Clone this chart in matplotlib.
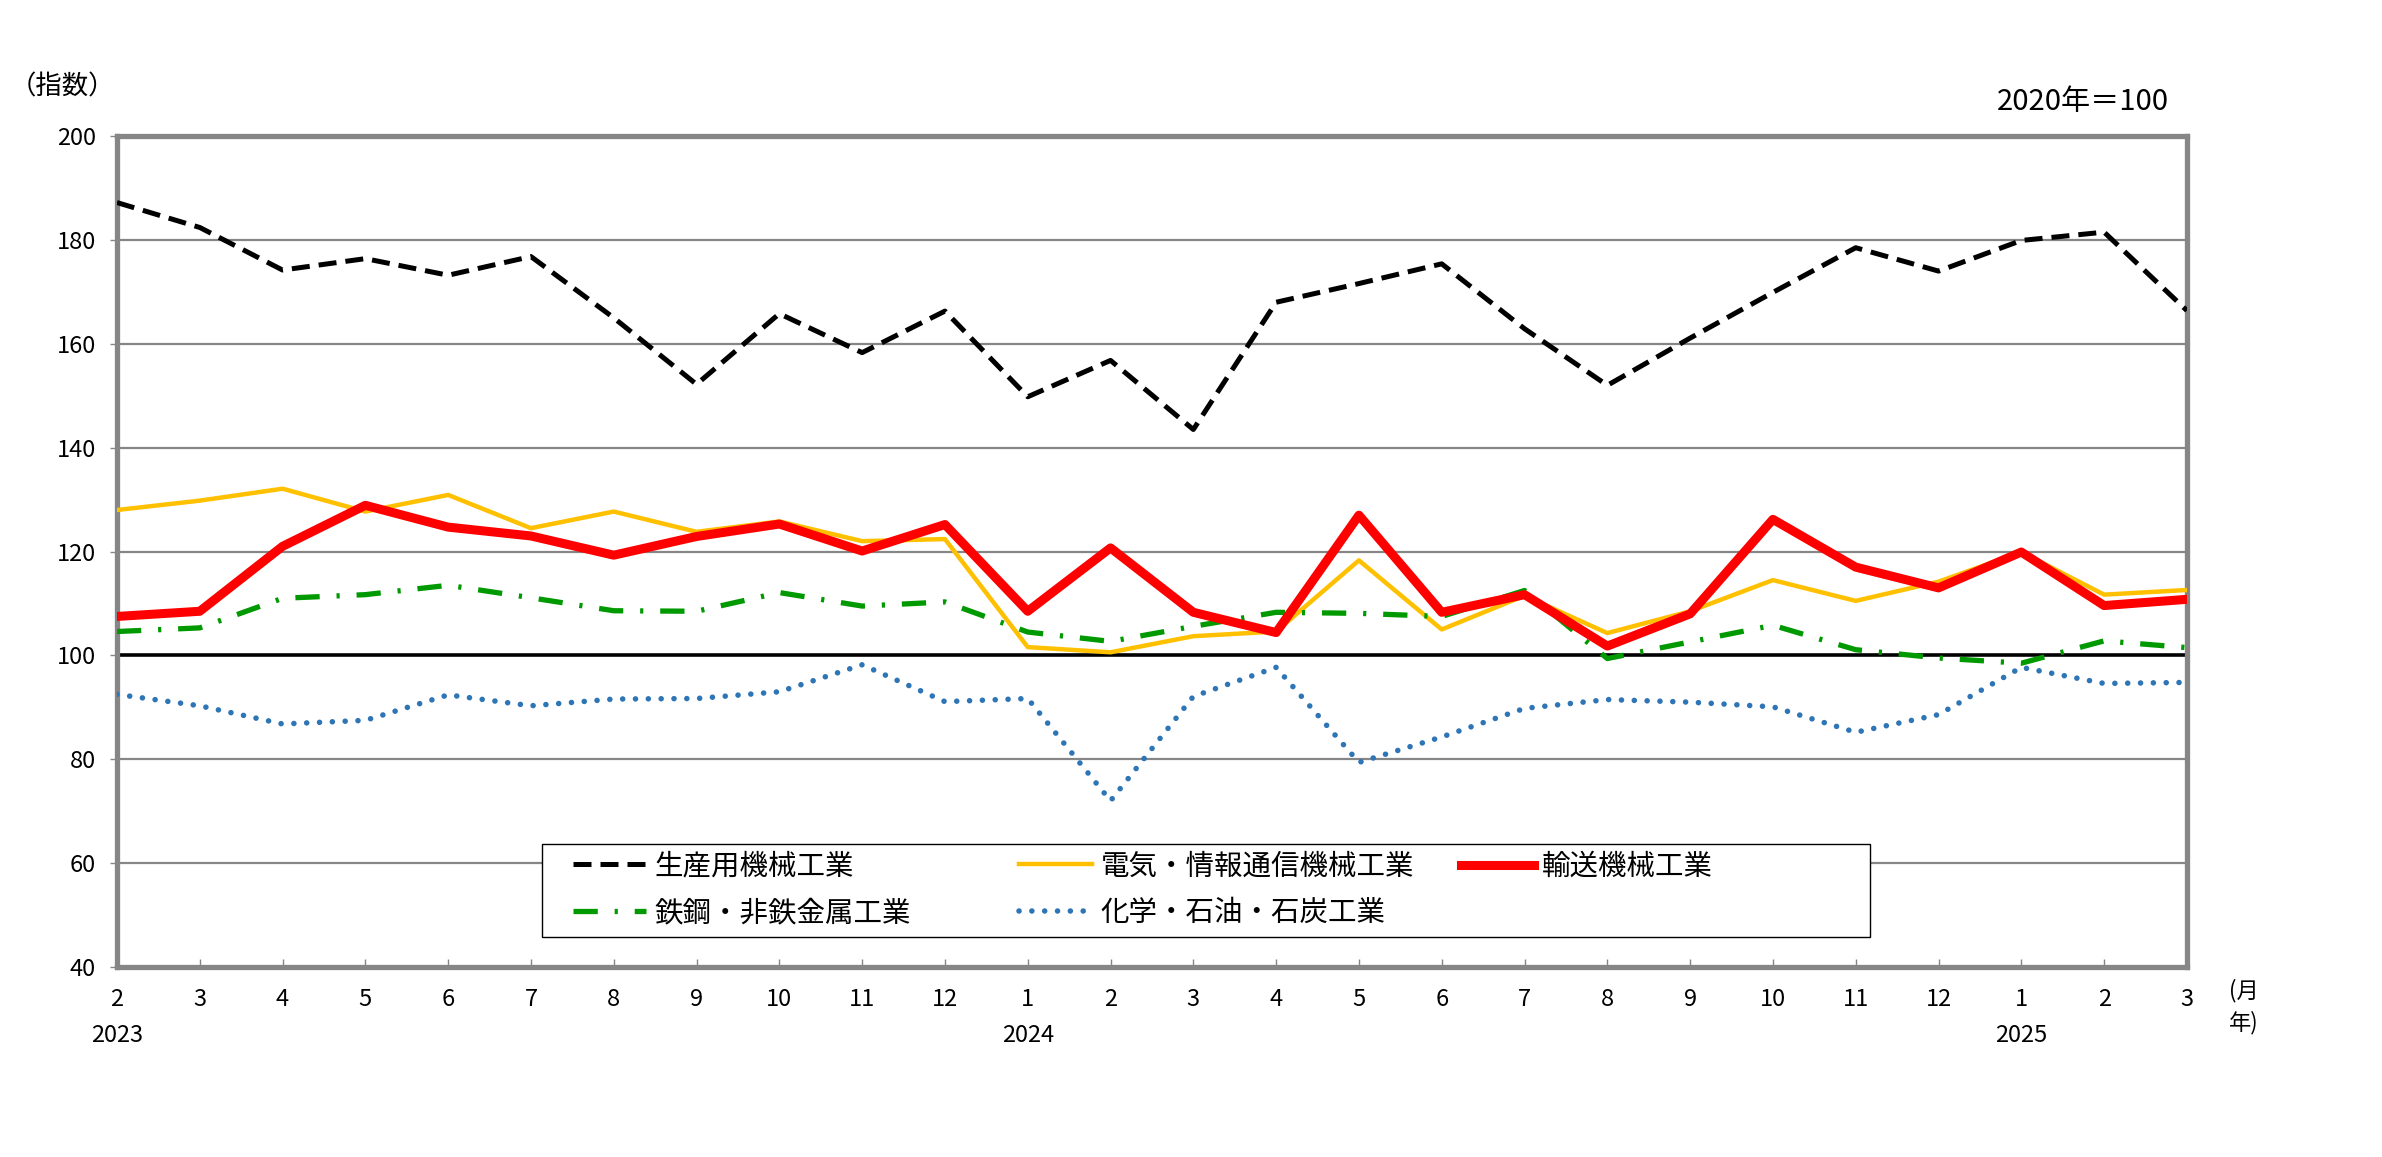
import numpy as np
import matplotlib
matplotlib.use("Agg")
import matplotlib.pyplot as plt
from matplotlib.patches import Rectangle

plt.rcParams['font.family'] = ['Noto Sans CJK JP', 'DejaVu Sans']

# month labels, Feb 2023 .. Mar 2025
months = [2, 3, 4, 5, 6, 7, 8, 9, 10, 11, 12, 1, 2, 3, 4, 5, 6, 7, 8, 9, 10, 11, 12, 1, 2, 3]
years = {0: "2023", 11: "2024", 23: "2025"}

seisan = [187.2, 182.4, 174.2, 176.4, 173.2, 176.8, 165.0, 152.2, 165.8, 158.3, 166.3, 149.8, 156.8,
          143.5, 168.0, 171.6, 175.4, 162.9, 152.0, 161.1, 169.9, 178.5, 174.0, 179.9, 181.5, 166.4]
denki = [128.0, 129.8, 132.1, 127.7, 130.9, 124.5, 127.7, 123.8, 125.8, 122.0, 122.4, 101.6, 100.6,
         103.7, 104.6, 118.3, 105.0, 111.5, 104.3, 108.5, 114.5, 110.5, 114.2, 119.9, 111.7, 112.6]
yusou = [107.5, 108.5, 121.0, 128.9, 124.7, 123.0, 119.3, 122.9, 125.3, 120.1, 125.2, 108.5, 120.7,
         108.3, 104.4, 127.0, 108.3, 111.7, 101.8, 108.0, 126.2, 117.0, 113.0, 119.9, 109.6, 110.8]
tekko = [104.6, 105.3, 111.0, 111.7, 113.5, 111.1, 108.6, 108.5, 112.1, 109.5, 110.3, 104.5, 102.7,
         105.6, 108.3, 108.1, 107.5, 112.5, 99.4, 102.6, 105.8, 101.1, 99.5, 98.5, 102.8, 101.5]
kagaku = [92.5, 90.3, 86.8, 87.5, 92.4, 90.3, 91.6, 91.7, 93.0, 98.2, 91.1, 91.7, 72.0,
          92.1, 97.7, 79.4, 84.3, 89.8, 91.5, 91.0, 90.1, 85.2, 88.6, 97.7, 94.6, 94.8]

x = np.arange(len(months))

fig = plt.figure(figsize=(23.82, 11.57), dpi=100)
ax = fig.add_axes([0.0491, 0.1642, 0.8690, 0.7182])

grey = '#868686'
for v in [60, 80, 120, 140, 160, 180]:
    ax.axhline(v, color=grey, lw=1.6, zorder=1)
ax.axhline(100, color='black', lw=2.6, zorder=1)

l_seisan, = ax.plot(x, seisan, color='black', lw=3.6, dashes=(3.6, 1.8), zorder=3)
l_denki, = ax.plot(x, denki, color='#ffc000', lw=3.2, zorder=3)
l_yusou, = ax.plot(x, yusou, color='#ff0000', lw=6.5, zorder=4)
l_tekko, = ax.plot(x, tekko, color='#009900', lw=3.8, dashes=(4.6, 3.2, 0.6, 3.2), zorder=3)
l_kagaku, = ax.plot(x, kagaku, color='#2e75b6', lw=4.0, linestyle=(0, (0.01, 2.3)),
                    dash_capstyle='round', zorder=3)

ax.set_xlim(0, len(months) - 1)
ax.set_ylim(40, 200)
ax.set_yticks(np.arange(40, 201, 20))
ax.set_xticks(x)
ax.set_xticklabels([str(m) for m in months])

for s in ax.spines.values():
    s.set_color(grey)
    s.set_linewidth(3.8)

ax.tick_params(axis='y', direction='out', length=5, width=1, color=grey, labelsize=17, pad=10)
ax.tick_params(axis='x', direction='in', length=6, width=1, color=grey, labelsize=17, pad=15)

for i, y in years.items():
    ax.text(i, -0.083, y, transform=ax.get_xaxis_transform(), ha='center', va='center', fontsize=17)

fig.text(0.942, 0.1435, "(月", ha='center', va='center', fontsize=16)
fig.text(0.942, 0.1160, "年)", ha='center', va='center', fontsize=16)
fig.text(0.004, 0.925, "（指数）", ha='left', va='center', fontsize=19)
fig.text(0.9106, 0.912, "2020年＝100", ha='right', va='center', fontsize=21)

# legend: white box with three equal-width columns
fig.add_artist(Rectangle((0.2275, 0.190), 0.5575, 0.0804, transform=fig.transFigure,
                         facecolor='white', edgecolor='black', lw=1.0, zorder=5))

columns = [
    ([l_seisan, l_tekko], ["生産用機械工業", "鉄鋼・非鉄金属工業"], 0.2406, 0.2310),
    ([l_denki, l_kagaku], ["電気・情報通信機械工業", "化学・石油・石炭工業"], 0.4278, 0.2310),
    ([l_yusou], ["輸送機械工業"], 0.6133, 0.2511),
]
for hs, labs, lx, ly in columns:
    leg = fig.legend(hs, labs, loc='center left', bbox_to_anchor=(lx, ly), ncol=1, fontsize=20.5,
                     frameon=False, handlelength=2.56, handletextpad=0.3,
                     labelspacing=0.6, borderaxespad=0, borderpad=0)
    leg.set_zorder(6)

fig.savefig("out.png", dpi=100)
